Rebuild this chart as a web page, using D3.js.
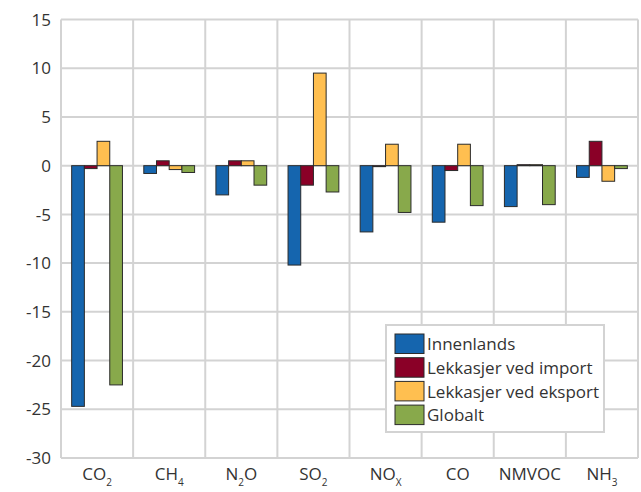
<!DOCTYPE html>
<html>
<head>
<meta charset="utf-8">
<script src="https://cdn.jsdelivr.net/npm/d3@7"></script>
<style>
  body { margin: 0; background: #fff; }
  svg text { font-family: "Open Sans", sans-serif; fill: #333; }
</style>
</head>
<body>
<svg id="chart" width="641" height="492"></svg>
<script>
// gas names, split into base text and subscript
const gases = [
  ['CO', '2'], ['CH', '4'], ['N', '2', 'O'], ['SO', '2'],
  ['NO', 'X'], ['CO', ''], ['NMVOC', ''], ['NH', '3'],
];
const seriesNames = ['Innenlands', 'Lekkasjer ved import', 'Lekkasjer ved eksport', 'Globalt'];
const seriesColors = ['#1565ae', '#8a0027', '#ffbf50', '#88a94b'];

const innenlands = [-24.7, -0.8, -3.0, -10.2, -6.8, -5.8, -4.2, -1.2];
const lekkImport = [-0.3, 0.5, 0.5, -2.0, -0.1, -0.5, 0.1, 2.5];
const lekkEksport = [2.5, -0.4, 0.5, 9.5, 2.2, 2.2, 0.1, -1.6];
const globalt = [-22.5, -0.7, -2.0, -2.7, -4.8, -4.1, -4.0, -0.3];

const yTicks = [15, 10, 5, 0, -5, -10, -15, -20, -25, -30];

const series = [innenlands, lekkImport, lekkEksport, globalt];

const margin = { top: 19.5, right: 3, bottom: 34, left: 61 };
const width = 641;
const height = 492;
const plotW = width - margin.left - margin.right;
const plotH = height - margin.top - margin.bottom;

const svg = d3.select('#chart');
const chart = svg.append('g').attr('transform', `translate(${margin.left},${margin.top})`);

const xScale = d3.scaleBand().domain(d3.range(gases.length)).range([0, plotW]).padding(0);
const xInner = d3.scaleBand().domain(d3.range(series.length)).range([0, xScale.bandwidth()])
  .paddingInner(0).paddingOuter(0.84);
const yScale = d3.scaleLinear().domain([-30, 15]).range([plotH, 0]);

// grid
chart.append('g')
  .selectAll('line.h')
  .data(yTicks)
  .join('line')
  .attr('x1', 0)
  .attr('x2', plotW)
  .attr('y1', (d) => yScale(d))
  .attr('y2', (d) => yScale(d))
  .attr('stroke', '#d3d3d3')
  .attr('stroke-width', 2);

chart.append('g')
  .selectAll('line.v')
  .data(d3.range(gases.length + 1))
  .join('line')
  .attr('x1', (i) => i * xScale.step())
  .attr('x2', (i) => i * xScale.step())
  .attr('y1', 0)
  .attr('y2', plotH)
  .attr('stroke', '#d3d3d3')
  .attr('stroke-width', 2);

// y tick labels
chart.append('g')
  .selectAll('text')
  .data(yTicks)
  .join('text')
  .attr('x', -10)
  .attr('y', (d) => yScale(d))
  .attr('dy', '0.36em')
  .attr('text-anchor', 'end')
  .attr('font-size', 17)
  .text((d) => d);

// bars
series.forEach((vals, s) => {
  chart.append('g')
    .selectAll('rect')
    .data(vals)
    .join('rect')
    .attr('x', (d, i) => xScale(i) + xInner(s))
    .attr('y', (d) => yScale(Math.max(0, d)))
    .attr('width', xInner.bandwidth())
    .attr('height', (d) => Math.abs(yScale(d) - yScale(0)))
    .attr('fill', seriesColors[s])
    .attr('stroke', '#2b2b2b')
    .attr('stroke-width', 1);
});

// x labels with subscripts
const xl = chart.append('g')
  .selectAll('text')
  .data(gases)
  .join('text')
  .attr('x', (d, i) => xScale(i) + xScale.bandwidth() / 2)
  .attr('y', plotH + 22)
  .attr('text-anchor', 'middle')
  .attr('font-size', 17);

xl.each(function (d) {
  const t = d3.select(this);
  t.append('tspan').text(d[0]);
  if (d[1]) t.append('tspan').attr('font-size', 10).attr('dy', 6).text(d[1]);
  if (d[2]) t.append('tspan').attr('dy', -6).text(d[2]);
});

// legend
const legend = svg.append('g').attr('transform', 'translate(386,325)');
legend.append('rect')
  .attr('width', 218)
  .attr('height', 107)
  .attr('fill', '#fff')
  .attr('stroke', '#d3d3d3')
  .attr('stroke-width', 2);

const items = legend.selectAll('g')
  .data(seriesNames)
  .join('g')
  .attr('transform', (d, i) => `translate(9,${9 + i * 23.7})`);

items.append('rect')
  .attr('width', 29)
  .attr('height', 19.5)
  .attr('fill', (d, i) => seriesColors[i])
  .attr('stroke', '#2b2b2b')
  .attr('stroke-width', 1);

items.append('text')
  .attr('x', 32)
  .attr('y', 10)
  .attr('dy', '0.36em')
  .attr('font-size', 17)
  .text((d) => d);
</script>
</body>
</html>
